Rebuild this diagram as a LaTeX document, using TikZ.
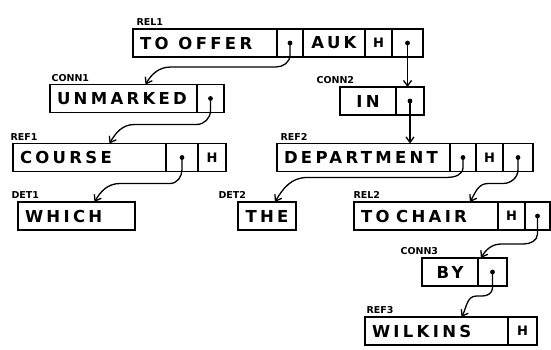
\documentclass[tikz,border=0pt]{standalone}
\usepackage{fontspec}
\usetikzlibrary{arrows.meta}
\newfontfamily\cellfont[LetterSpace=20]{DejaVu Sans}
\newfontfamily\tagfont{DejaVu Sans}

\begin{document}
\begin{tikzpicture}[x=1pt,y=1pt,
  field/.style={draw, line width=1.6pt, outer sep=0pt, inner sep=0pt,
    minimum height=28pt, anchor=west, font=\cellfont\bfseries\fontsize{16.5}{16.5}\selectfont},
  word/.style={field, inner xsep=7pt, text width=#1, align=left},
  cell/.style={field, minimum width=#1},
  hcell/.style={cell=#1, font=\cellfont\bfseries\fontsize{13}{13}\selectfont},
  ptr/.style={field, minimum width=#1,
    path picture={\fill (path picture bounding box.center) circle (2.4pt);}},
  tag/.style={anchor=base west, font=\tagfont\bfseries\fontsize{9.5}{9.5}\selectfont},
  link/.style={line width=1.3pt, -{Straight Barb[length=5.5pt,width=8pt]}}
]
\useasboundingbox (0,0) rectangle (551,349);

% Records
\node[word=130] (REL1a) at (133,306) {TO\hspace{0.6em}OFFER};
\node[ptr=26] (REL1b) at (REL1a.east) {};
\node[cell=62] (REL1c) at (REL1b.east) {AUK};
\node[hcell=27] (REL1d) at (REL1c.east) {H};
\node[ptr=31] (REL1e) at (REL1d.east) {};

\node[word=133] (CONN1a) at (50,250.5) {UNMARKED};
\node[ptr=27] (CONN1b) at (CONN1a.east) {};

\node[cell=56] (CONN2a) at (340,248) {IN};
\node[ptr=28] (CONN2b) at (CONN2a.east) {};

\node[word=139] (REF1a) at (13,191.5) {COURSE};
\node[ptr=32] (REF1b) at (REF1a.east) {};
\node[hcell=28] (REF1c) at (REF1b.east) {H};

\node[word=159] (REF2a) at (277,191.5) {DEPARTMENT};
\node[ptr=26] (REF2b) at (REF2a.east) {};
\node[hcell=27] (REF2c) at (REF2b.east) {H};
\node[ptr=30] (REF2d) at (REF2c.east) {};

\node[word=103] (DET1a) at (18,133) {WHICH};
\node[cell=58] (DET2a) at (238,133) {THE};

\node[word=130] (REL2a) at (354,133) {TO\hspace{0.4em}CHAIR};
\node[hcell=27] (REL2b) at (REL2a.east) {H};
\node[ptr=25] (REL2c) at (REL2b.east) {};

\node[cell=56] (CONN3a) at (422,77) {BY};
\node[ptr=29] (CONN3b) at (CONN3a.east) {};

\node[word=129] (REF3a) at (365,18) {WILKINS};
\node[hcell=29] (REF3b) at (REF3a.east) {H};

% Tags
\node[tag] (REL1t) at (133,323.5) {REL1};
\node[tag] (CONN1t) at (48,268) {CONN1};
\node[tag] (CONN2t) at (313,265.5) {CONN2};
\node[tag] (REF1t) at (7,209) {REF1};
\node[tag] (REF2t) at (277,209) {REF2};
\node[tag] (DET1t) at (8,150.5) {DET1};
\node[tag] (DET2t) at (215,150.5) {DET2};
\node[tag] (REL2t) at (350,150.5) {REL2};
\node[tag] (CONN3t) at (397,94.5) {CONN3};
\node[tag] (REF3t) at (363,35.5) {REF3};

% Links
\draw[link] (REL1b.center) -- ++(0,-12) to[out=-90,in=0] ++(-14,-12) -- ++(-105,0) to[out=180,in=60] ([xshift=22]CONN1a.north);
\draw[link] (REL1e.center) -- (REL1e.center |- CONN2b.north);
\draw[link] (CONN1b.center) -- ++(0,-12) to[out=-90,in=0] ++(-14,-14) -- ++(-62,0) to[out=180,in=60] ([xshift=20]REF1a.north);
\draw[link] (CONN2b.center) -- (CONN2b.center |- REF2a.north);
\draw[link] (REF1b.center) -- ++(0,-12) to[out=-90,in=0] ++(-12,-14) -- ++(-50,0) to[out=180,in=60] ([xshift=18]DET1a.north);
\draw[link] (REF2b.center) -- ++(0,-10) to[out=-90,in=0] ++(-16,-10) -- ++(-140,0) to[out=180,in=60] ([xshift=8]DET2a.north);
\draw[link] (REF2d.center) -- ++(0,-12) to[out=-90,in=0] ++(-15,-14) -- ++(-15,0) to[out=180,in=60] ([xshift=44]REL2a.north);
\draw[link] (REL2c.center) -- ++(0,-18) to[out=-90,in=0] ++(-14,-10) -- ++(-22,0) to[out=180,in=60] ([xshift=3]CONN3b.north west);
\draw[link] (CONN3b.center) -- ++(0,-16) to[out=-90,in=0] ++(-10,-8) -- ++(-6,0) to[out=180,in=60] ([xshift=25]REF3a.north);
\end{tikzpicture}
\end{document}
